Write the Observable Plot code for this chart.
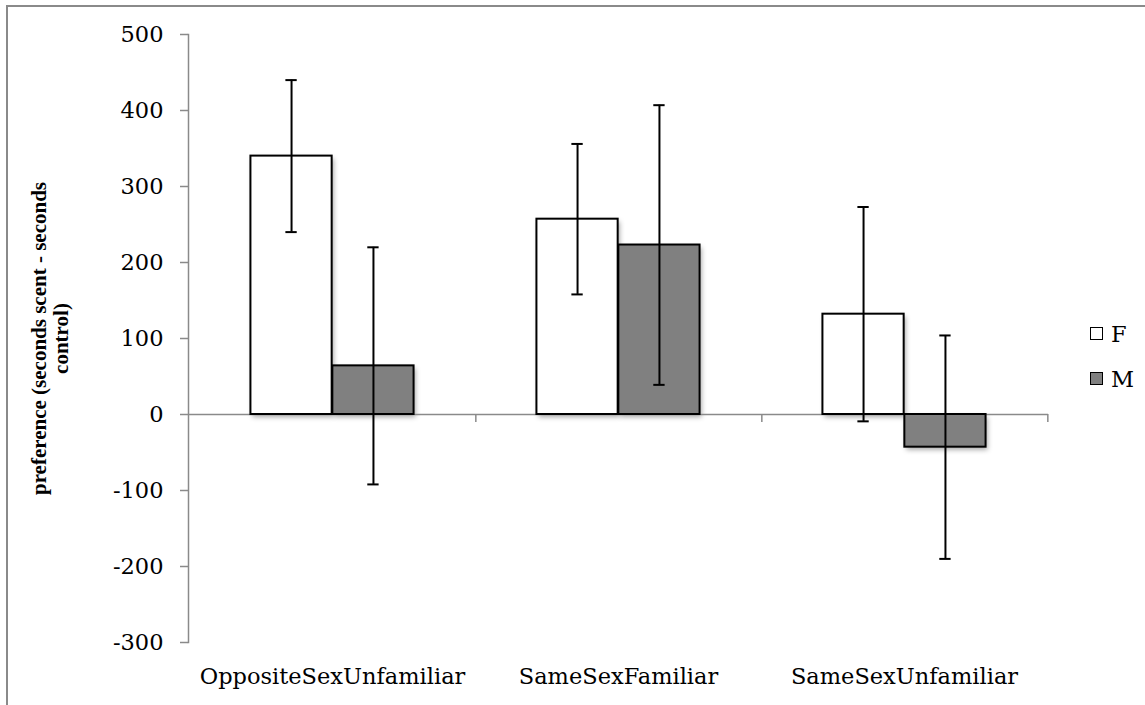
<!DOCTYPE html>
<html>
<head>
<meta charset="utf-8">
<script src="https://cdn.jsdelivr.net/npm/d3@7"></script>
<script src="https://cdn.jsdelivr.net/npm/@observablehq/plot@0.6"></script>
<style>
  html, body { margin: 0; padding: 0; background: white; overflow: hidden; }
  #wrap { position: relative; width: 1145px; height: 705px; }
  #border { position: absolute; left: 6px; top: 5px; width: 1200px; height: 800px;
            border-left: 2px solid #8a8a8a; border-top: 2px solid #8a8a8a; pointer-events: none; }
  #chart { position: absolute; left: 0; top: 0; }
  #legend { position: absolute; left: 1090px; top: 311px; font-family: "DejaVu Serif", serif; font-size: 22.5px; }
  .item { display: flex; align-items: center; height: 45px; }
  .sw { width: 11px; height: 11px; border: 1.5px solid black; margin-right: 8px; }
</style>
</head>
<body>
<div id="wrap">
  <div id="chart"></div>
  <div id="border"></div>
  <div id="legend"></div>
</div>
<script>
const categories = ["OppositeSexUnfamiliar", "SameSexFamiliar", "SameSexUnfamiliar"];
const seriesNames = ["F", "M"];
const femaleMeans = [340, 257, 132];
const femaleErrors = [100, 99, 141];
const maleMeans = [64, 223, -43];
const maleErrors = [156, 184, 147];
const yTicks = [500, 400, 300, 200, 100, 0, -100, -200, -300];
const yLabel = "preference (seconds scent - seconds\ncontrol)";
const seriesColors = ["white", "#808080"];

const rows = categories.map((c, i) => ({
  category: c,
  f: femaleMeans[i], fe: femaleErrors[i],
  m: maleMeans[i], me: maleErrors[i]
}));

const font = "DejaVu Serif, serif";
const bandW = 860 / 3;
const barW = bandW / 3.5;
const outer = barW * 0.75;
const capHalf = 6;

const chart = Plot.plot({
  width: 1145,
  height: 705,
  marginLeft: 188,
  marginRight: 97,
  marginTop: 34,
  marginBottom: 63,
  x: { domain: categories, paddingInner: 0, paddingOuter: 0 },
  y: { domain: [-300, 500] },
  style: { fontFamily: font, fontSize: "22.5px", color: "black", background: "transparent" },
  marks: [
    Plot.frame({ anchor: "left", stroke: "#8a8a8a", strokeWidth: 1.5 }),
    Plot.axisY({ ticks: yTicks, tickFormat: d => String(d), tickSize: 8, tickPadding: 17,
                 stroke: "#8a8a8a", strokeWidth: 1.5, label: null, fontSize: 22.5 }),
    Plot.axisX({ tickSize: 0, tickPadding: 26, label: null, fontSize: 22.5 }),
    Plot.text([yLabel], { text: d => d, frameAnchor: "middle", rotate: -90, dx: 49.5 - 618,
                          fontWeight: "bold", fontSize: 21, lineHeight: 1.05, lineAnchor: "middle",
                          fontFamily: "Liberation Serif, serif" }),
    // shadows
    Plot.barY(rows, { x: "category", y: "f", insetLeft: outer, insetRight: bandW - outer - barW,
                      fill: "black", fillOpacity: 0.35, dx: 2, dy: 3, ariaDescription: "shadow" }),
    Plot.barY(rows, { x: "category", y: "m", insetLeft: outer + barW, insetRight: outer,
                      fill: "black", fillOpacity: 0.35, dx: 2, dy: 3, ariaDescription: "shadow" }),
    Plot.ruleY([0], { stroke: "#8a8a8a", strokeWidth: 1.5 }),
    Plot.ruleX(categories, { x: d => d, y1: 0, y2: -10.5, dx: bandW / 2, stroke: "#8a8a8a", strokeWidth: 1.5 }),
    // bars
    Plot.barY(rows, { x: "category", y: "f", insetLeft: outer, insetRight: bandW - outer - barW,
                      fill: seriesColors[0], stroke: "black", strokeWidth: 2 }),
    Plot.barY(rows, { x: "category", y: "m", insetLeft: outer + barW, insetRight: outer,
                      fill: seriesColors[1], stroke: "black", strokeWidth: 2 }),
    // error bars F
    Plot.ruleX(rows, { x: "category", y1: d => d.f - d.fe, y2: d => d.f + d.fe, dx: -barW / 2,
                       stroke: "black", strokeWidth: 2 }),
    Plot.tickY(rows, { x: "category", y: d => d.f + d.fe, insetLeft: outer + barW / 2 - capHalf,
                       insetRight: bandW - outer - barW / 2 - capHalf, stroke: "black", strokeWidth: 2 }),
    Plot.tickY(rows, { x: "category", y: d => d.f - d.fe, insetLeft: outer + barW / 2 - capHalf,
                       insetRight: bandW - outer - barW / 2 - capHalf, stroke: "black", strokeWidth: 2 }),
    // error bars M
    Plot.ruleX(rows, { x: "category", y1: d => d.m - d.me, y2: d => d.m + d.me, dx: barW / 2,
                       stroke: "black", strokeWidth: 2 }),
    Plot.tickY(rows, { x: "category", y: d => d.m + d.me, insetLeft: outer + barW * 1.5 - capHalf,
                       insetRight: outer + barW / 2 - capHalf, stroke: "black", strokeWidth: 2 }),
    Plot.tickY(rows, { x: "category", y: d => d.m - d.me, insetLeft: outer + barW * 1.5 - capHalf,
                       insetRight: outer + barW / 2 - capHalf, stroke: "black", strokeWidth: 2 })
  ]
});

// soft blur for bar shadows
const ns = "http://www.w3.org/2000/svg";
const defs = document.createElementNS(ns, "defs");
defs.innerHTML = '<filter id="blur" x="-20%" y="-20%" width="140%" height="140%"><feGaussianBlur stdDeviation="2.5"/></filter>';
chart.insertBefore(defs, chart.firstChild);
chart.querySelectorAll('g[aria-description="shadow"]').forEach(g => g.setAttribute("filter", "url(#blur)"));

document.getElementById("chart").appendChild(chart);

const legend = document.getElementById("legend");
seriesNames.forEach((s, i) => {
  const item = document.createElement("div");
  item.className = "item";
  const sw = document.createElement("div");
  sw.className = "sw";
  sw.style.background = seriesColors[i];
  const t = document.createElement("span");
  t.textContent = s;
  item.appendChild(sw);
  item.appendChild(t);
  legend.appendChild(item);
});
</script>
</body>
</html>
